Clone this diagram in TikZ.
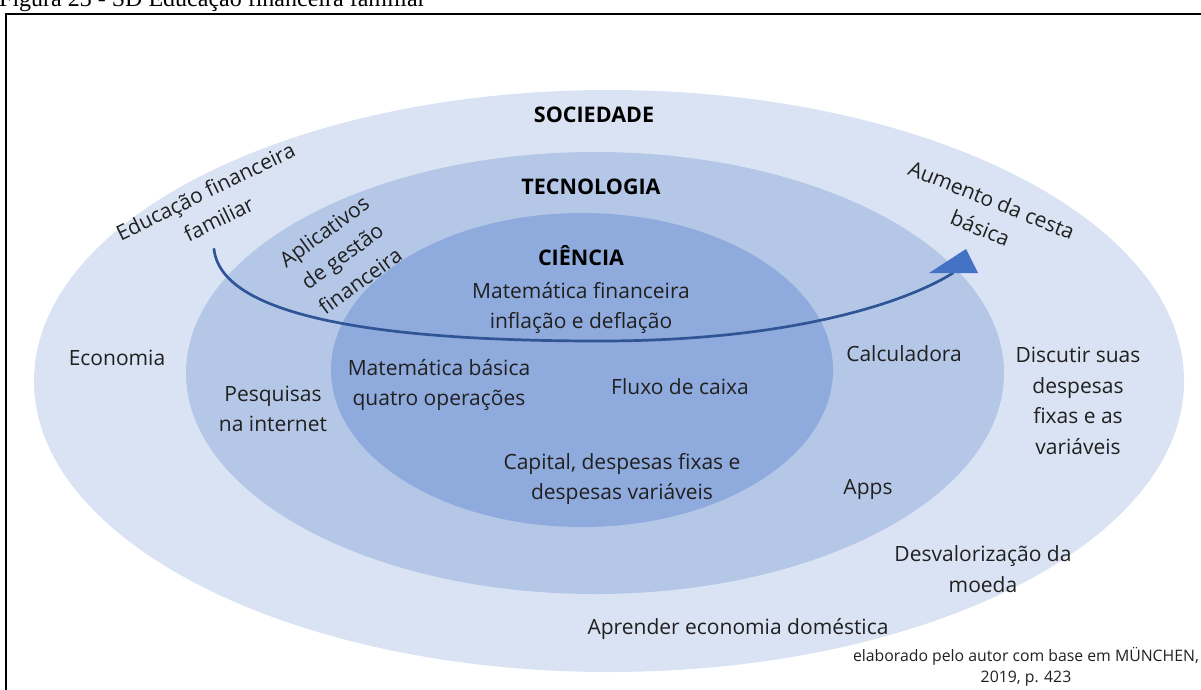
\documentclass[tikz,border=0pt]{standalone}
\usepackage{fontspec}
\setmainfont{Open Sans}
\newfontfamily\capfont{Liberation Serif}
\usetikzlibrary{calc}
\definecolor{socC}{HTML}{DAE3F3}
\definecolor{tecC}{HTML}{B4C7E7}
\definecolor{cieC}{HTML}{8FAADC}
\definecolor{arrC}{HTML}{2F5597}
\definecolor{headC}{HTML}{4472C4}
\definecolor{txtC}{HTML}{202020}
\begin{document}
\begin{tikzpicture}[x=1pt,y=-1pt,
  lbl/.style={font=\fontsize{21}{30.5}\selectfont, text=txtC, align=center, inner sep=0pt},
  head/.style={font=\fontsize{21.5}{24}\selectfont\bfseries, text=black, inner sep=0pt},
  cite/.style={font=\fontsize{15.8}{21}\selectfont, text=txtC, align=center, inner sep=0pt},
  conn/.style={draw=arrC, line width=2.7pt, line cap=round}]
\useasboundingbox (0,0) rectangle (1201,689);
% caption and frame
\node[anchor=base west, inner sep=0pt, font=\capfont\fontsize{24}{24}\selectfont] (cap) at (-1,6) {Figura 23 - SD Educação financeira familiar};
\draw[line width=2.2pt] (6,14) rectangle (1240,720);
% ellipses
\fill[socC] (609,381) ellipse [x radius=575pt, y radius=291pt];
\fill[tecC] (595,373) ellipse [x radius=409pt, y radius=221pt];
\fill[cieC] (582,370) ellipse [x radius=251pt, y radius=157pt];
% headings
\node[head] (soc) at (594,115) {SOCIEDADE};
\node[head] (tec) at (591,187) {TECNOLOGIA};
\node[head] (cie) at (581,256) {CIÊNCIA};
% science
\node[lbl] (matfin) at (581,308) {Matemática financeira\\inflação e deflação};
\node[lbl] (matbas) at (439,385) {Matemática básica\\quatro operações};
\node[lbl] (fluxo) at (680,387) {Fluxo de caixa};
\node[lbl] (capital) at (622,479) {Capital, despesas fixas e\\despesas variáveis};
% technology
\node[lbl] (pesq) at (273,409) {Pesquisas\\na internet};
\node[lbl] (calc) at (904,354) {Calculadora};
\node[lbl] (apps) at (868,489) {Apps};
\node[lbl, rotate=36] (aplic) at (342,256) {Aplicativos\\de gestão\\financeira};
% society
\node[lbl] (econ) at (117,358) {Economia};
\node[lbl] (disc) at (1078,401) {Discutir suas\\despesas\\fixas e as\\variáveis};
\node[lbl] (desv) at (983,569) {Desvalorização da\\moeda};
\node[lbl] (apr) at (738,629) {Aprender economia doméstica};
\node[lbl, rotate=26] (educ) at (212,205) {Educação financeira\\familiar};
\node[lbl, rotate=-22] (aum) at (986,214) {Aumento da cesta\\básica};
% source
\node[cite] (src) at (1026,667) {elaborado pelo autor com base em MÜNCHEN,\\2019, p. 423};
% arrow
\coordinate (arrS) at (214,249);
\coordinate (arrM) at (600,341);
\coordinate (arrE) at (953,273);
\draw[conn] (arrS) .. controls (222,325) and (420,341) .. (arrM)
                   .. controls (790,341) and (905,303) .. (arrE);
\fill[headC] ($(arrE)+(-24,0)$) -- ($(arrE)+(13,-24)$) -- ($(arrE)+(25,0)$) -- cycle;
\end{tikzpicture}
\end{document}
